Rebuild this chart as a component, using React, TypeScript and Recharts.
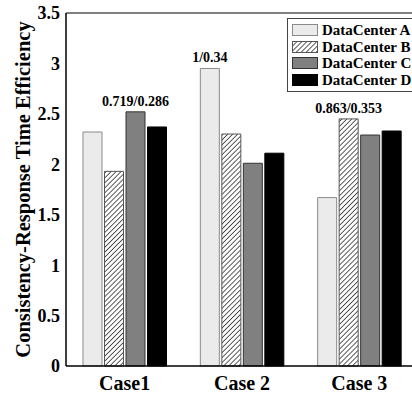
import React from 'react';
import { BarChart, Bar, XAxis, YAxis, Legend, ReferenceLine, LabelList } from 'recharts';

const categories = ['Case1', 'Case 2', 'Case 3'];
const dataCenterA = [2.32, 2.95, 1.67];
const dataCenterB = [1.93, 2.3, 2.45];
const dataCenterC = [2.52, 2.01, 2.29];
const dataCenterD = [2.37, 2.11, 2.33];
const annotations = ['0.719/0.286', '1/0.34', '0.863/0.353'];
const annotatedSeries = ['C', 'A', 'B'];
const yTicks = [0, 0.5, 1, 1.5, 2, 2.5, 3, 3.5];

const data = categories.map((name, i) => ({
  name,
  A: dataCenterA[i],
  B: dataCenterB[i],
  C: dataCenterC[i],
  D: dataCenterD[i],
}));

const FONT = '"Liberation Serif", "Times New Roman", serif';

const series = [
  { key: 'A', name: 'DataCenter A', fill: '#ebebeb', stroke: '#8a8a8a' },
  { key: 'B', name: 'DataCenter B', fill: 'url(#hatch)', stroke: '#555' },
  { key: 'C', name: 'DataCenter C', fill: '#808080', stroke: '#333' },
  { key: 'D', name: 'DataCenter D', fill: '#000', stroke: '#000' },
];

const Swatch = ({ k, fill, stroke }: { k: string; fill: string; stroke: string }) => (
  <svg width={26} height={12} style={{ display: 'block' }}>
    <defs>
      <pattern id="hatchLegend" width="3.5" height="3.5" patternUnits="userSpaceOnUse" patternTransform="rotate(45)">
        <rect width="3.5" height="3.5" fill="#fff" />
        <line x1="0" y1="0" x2="0" y2="3.5" stroke="#333" strokeWidth="1.6" />
      </pattern>
    </defs>
    <rect x={0.5} y={0.5} width={25} height={11} fill={k === 'B' ? 'url(#hatchLegend)' : fill} stroke={stroke} />
  </svg>
);

const LegendBox = () => (
  <div
    style={{
      border: '1.5px solid #444',
      background: '#fff',
      padding: '3px 0',
      boxSizing: 'border-box',
      fontFamily: FONT,
      fontWeight: 'bold',
      fontSize: 15,
    }}
  >
    {series.map((s) => (
      <div key={s.key} style={{ display: 'flex', alignItems: 'center', height: 16.5, paddingLeft: 4 }}>
        <Swatch k={s.key} fill={s.fill} stroke={s.stroke} />
        <span style={{ marginLeft: 4, lineHeight: '16px', whiteSpace: 'nowrap' }}>{s.name}</span>
      </div>
    ))}
  </div>
);

const makeAnnotation = (seriesKey: string) => (props: any) => {
  const { x, y, width, index } = props;
  if (annotatedSeries[index] !== seriesKey) return null;
  return (
    <text
      x={Number(x) + Number(width) / 2}
      y={Number(y) - 6}
      textAnchor="middle"
      fontFamily={FONT}
      fontWeight="bold"
      fontSize={14}
      fill="#000"
    >
      {annotations[index]}
    </text>
  );
};

const App: React.FC = () => {
  return (
    <div style={{ position: 'absolute', left: 0, top: 0, width: 412, height: 393, overflow: 'hidden', background: '#fff' }}>
      <BarChart
        width={420}
        height={393}
        data={data}
        margin={{ top: 13, right: 2, bottom: 0, left: 0 }}
        barSize={19}
        barGap={2.5}
      >
        <defs>
          <pattern id="hatch" width="3.5" height="3.5" patternUnits="userSpaceOnUse" patternTransform="rotate(45)">
            <rect width="3.5" height="3.5" fill="#fff" />
            <line x1="0" y1="0" x2="0" y2="3.5" stroke="#333" strokeWidth="1.6" />
          </pattern>
        </defs>
        <XAxis
          dataKey="name"
          height={27}
          axisLine={{ stroke: '#000', strokeWidth: 1.5 }}
          tickLine={false}
          tickMargin={4}
          tick={{ fontFamily: FONT, fontWeight: 'bold', fontSize: 20, fill: '#000' }}
        />
        <YAxis
          width={66}
          domain={[0, 3.5]}
          ticks={yTicks}
          axisLine={{ stroke: '#000', strokeWidth: 1.5 }}
          tickLine={false}
          tickMargin={0}
          tick={{ fontFamily: FONT, fontWeight: 'bold', fontSize: 18, fill: '#000' }}
          label={{
            value: 'Consistency-Response Time Efficiency',
            angle: -90,
            position: 'center',
            dx: -10,
            style: { fontFamily: FONT, fontWeight: 'bold', fontSize: 20.5, fill: '#000' },
          }}
        />
        <ReferenceLine y={3.5} stroke="#000" strokeWidth={1} />
        <Legend
          layout="horizontal"
          verticalAlign="middle"
          align="center"
          wrapperStyle={{ top: 18, left: 287, width: 130 }}
          content={() => <LegendBox />}
        />
        {series.map((s) => (
          <Bar
            key={s.key}
            dataKey={s.key}
            name={s.name}
            fill={s.fill}
            stroke={s.stroke}
            strokeWidth={1}
            isAnimationActive={false}
          >
            <LabelList dataKey={s.key} content={makeAnnotation(s.key)} />
          </Bar>
        ))}
      </BarChart>
    </div>
  );
};

export default App;
